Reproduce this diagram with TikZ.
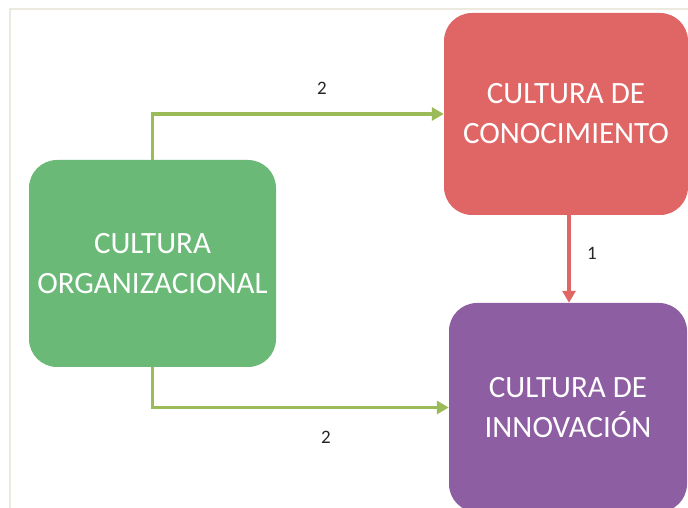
\documentclass[tikz,border=0pt]{standalone}
\usepackage{fontspec}
\setmainfont{Carlito}
\usetikzlibrary{arrows.meta}
\definecolor{verde}{RGB}{106,185,119}
\definecolor{rojo}{RGB}{224,102,102}
\definecolor{morado}{RGB}{142,94,162}
\definecolor{oliva}{RGB}{155,187,89}
\definecolor{marco}{RGB}{236,233,222}
\begin{document}
\begin{tikzpicture}[x=1pt,y=1pt,
	caja/.style={rounded corners=28pt,text=white,align=center,
		font=\fontsize{31}{40}\selectfont,inner sep=0pt},
	flecha/.style={line width=3.5pt,-{Triangle[length=12pt,width=13pt]}},
	etiqueta/.style={font=\fontsize{19}{22}\selectfont,text=black!85}]
\useasboundingbox (0,0) rectangle (688,508);
\clip (0,0) rectangle (688,508);
\draw[marco,line width=1.5pt] (10,-5) -- (10,499) -- (700,499);

\node[caja,fill=verde,minimum width=247pt,minimum height=207pt] (org) at (152.5,244.5) {CULTURA\\ORGANIZACIONAL};
\node[caja,fill=rojo,minimum width=244pt,minimum height=202pt] (con) at (566,394) {CULTURA DE\\CONOCIMIENTO};
\node[caja,fill=morado,minimum width=238pt,minimum height=209pt] (inn) at (568,100.5) {CULTURA DE\\INNOVACIÓN};

\draw[flecha,oliva] (org.north) |- (con.west);
\draw[flecha,oliva] (org.south) |- (inn.west);
\draw[flecha,rojo] (con.south -| 569,0) -- (inn.north -| 569,0);

\node[etiqueta] (e1) at (322,420) {2};
\node[etiqueta] (e2) at (326,71) {2};
\node[etiqueta] (e3) at (592,255) {1};
\end{tikzpicture}
\end{document}
